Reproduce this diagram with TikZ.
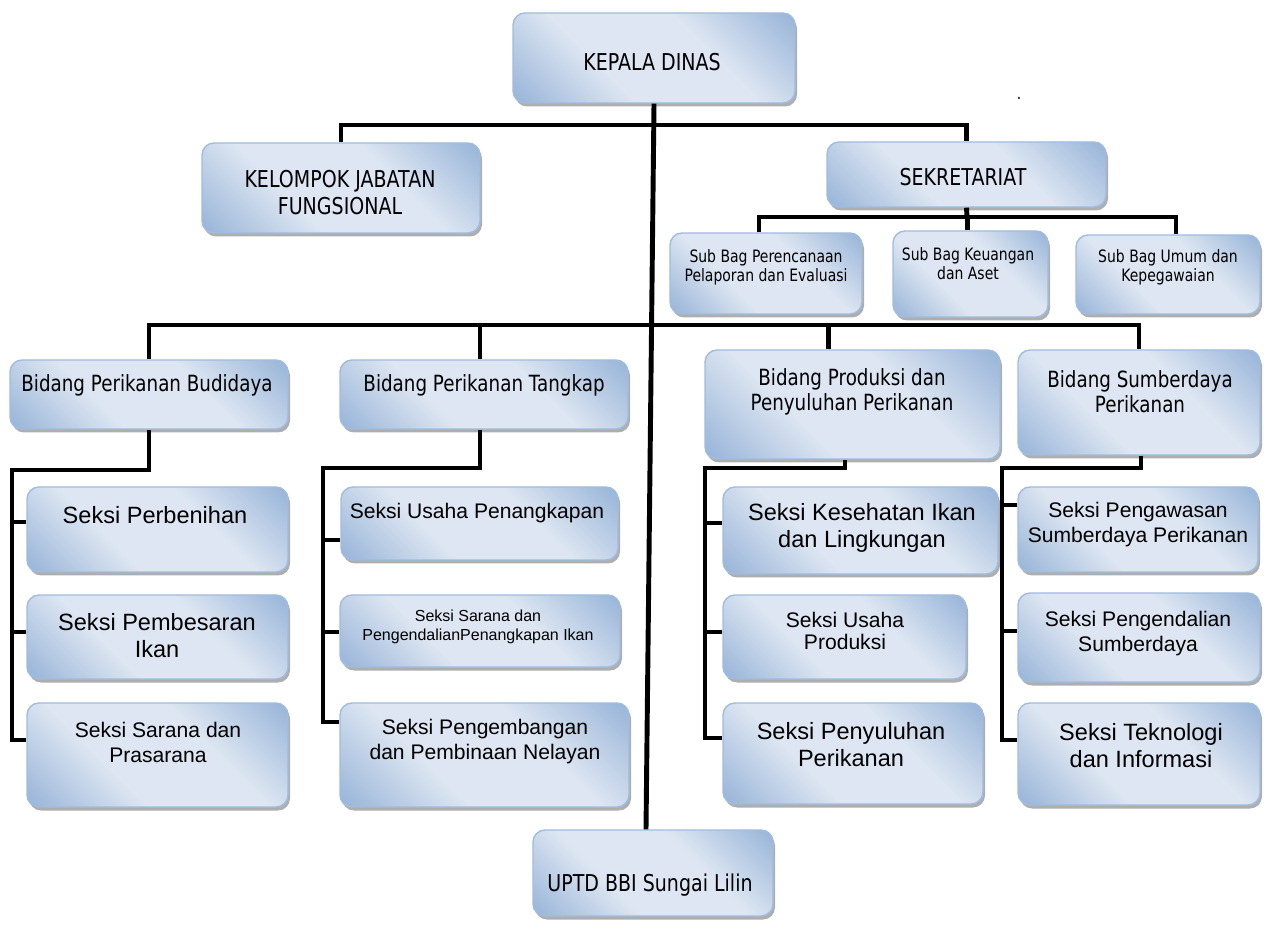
\documentclass[tikz,border=0pt]{standalone}
\usepackage{fontspec}
\usetikzlibrary{calc,fit,shadows}
\newfontfamily\tahoma[FakeStretch=0.82]{DejaVu Sans}
\newfontfamily\arialf{Liberation Sans}
\definecolor{bdark}{RGB}{143,174,213}
\definecolor{blight}{RGB}{221,230,242}
\definecolor{bedge}{RGB}{160,188,222}
\pgfdeclarehorizontalshading{boxgrad}{100bp}{color(0bp)=(bdark); color(12bp)=(bdark); color(38bp)=(blight); color(62bp)=(blight); color(88bp)=(bdark); color(100bp)=(bdark)}
\tikzset{
  orgbox/.style={rectangle, rounded corners=0.24cm, draw=bedge, line width=0.8pt,
    shading=boxgrad, shading angle=45, inner sep=0pt,
    drop shadow={shadow xshift=0.04cm, shadow yshift=-0.07cm, fill=black!45, opacity=0.7}},
  conn/.style={line width=2.8pt},
  head/.style={font=\tahoma\fontsize{13.2}{15.3}\selectfont, align=center, inner sep=0pt},
  bidang/.style={font=\tahoma\fontsize{12.7}{14.2}\selectfont, align=center, inner sep=0pt},
  subbag/.style={font=\tahoma\fontsize{9.7}{10.8}\selectfont, align=center, inner sep=0pt},
  seksibig/.style={font=\arialf\fontsize{13.4}{15.3}\selectfont, align=center, inner sep=0pt},
  seksi/.style={font=\arialf\fontsize{12}{14.2}\selectfont, align=center, inner sep=0pt},
  seksismall/.style={font=\arialf\fontsize{9.1}{10.8}\selectfont, align=center, inner sep=0pt}
}
\begin{document}
\begin{tikzpicture}[x=0.02cm,y=-0.02cm]
\useasboundingbox (0,0) rectangle (1264,928);

% boxes
\node [orgbox, fit={(513,13) (795,103)}] (kepala) {};
\node [orgbox, fit={(202,143) (480,233)}] (kelompok) {};
\node [orgbox, fit={(827,142) (1106,207)}] (sekr) {};
\node [orgbox, fit={(670,233) (862,314)}] (sb1) {};
\node [orgbox, fit={(893,231) (1048,317)}] (sb2) {};
\node [orgbox, fit={(1076,235) (1260,314)}] (sb3) {};
\node [orgbox, fit={(10,360) (288,429)}] (bud) {};
\node [orgbox, fit={(340,360) (628,429)}] (tang) {};
\node [orgbox, fit={(705,350) (1000,459)}] (prod) {};
\node [orgbox, fit={(1018,350) (1260,455)}] (sumb) {};
\node [orgbox, fit={(27,487) (288,572)}] (perb) {};
\node [orgbox, fit={(27,595) (288,679)}] (pemb) {};
\node [orgbox, fit={(27,703) (288,807)}] (sarpras) {};
\node [orgbox, fit={(341,487) (618,560)}] (usahap) {};
\node [orgbox, fit={(340,595) (620,667)}] (sarana) {};
\node [orgbox, fit={(340,703) (629,807)}] (pengemb) {};
\node [orgbox, fit={(723,487) (998,574)}] (kes) {};
\node [orgbox, fit={(723,595) (966,679)}] (usahaprod) {};
\node [orgbox, fit={(723,703) (983,804)}] (peny) {};
\node [orgbox, fit={(1018,487) (1258,572)}] (pengaw) {};
\node [orgbox, fit={(1018,593) (1260,682)}] (pengend) {};
\node [orgbox, fit={(1018,703) (1260,805)}] (tekno) {};
\node [orgbox, fit={(533,830) (773,916)}] (uptd) {};

% texts
\node [head] (kepalat) at (652,62) {KEPALA DINAS};
\node [head] (kelompokt) at (340,193) {KELOMPOK JABATAN\\FUNGSIONAL};
\node [head] (sekrt) at (963,177) {SEKRETARIAT};
\node [subbag] (sb1t) at (766,267) {Sub Bag Perencanaan\\Pelaporan dan Evaluasi};
\node [subbag] (sb2t) at (968,264) {Sub Bag Keuangan\\dan Aset};
\node [subbag] (sb3t) at (1168,267) {Sub Bag Umum dan\\Kepegawaian};
\node [bidang] (budt) at (147,385) {Bidang Perikanan Budidaya};
\node [bidang] (tangt) at (484,385) {Bidang Perikanan Tangkap};
\node [bidang] (prodt) at (852,392) {Bidang Produksi dan\\Penyuluhan Perikanan};
\node [bidang] (sumbt) at (1140,392) {Bidang Sumberdaya\\Perikanan};
\node [seksibig] (perbt) at (155,515) {Seksi Perbenihan};
\node [seksibig] (pembt) at (157,636) {Seksi Pembesaran\\Ikan};
\node [seksi] (sarprast) at (158,742) {Seksi Sarana dan\\Prasarana};
\node [seksi] (usahapt) at (477,513) {Seksi Usaha Penangkapan};
\node [seksismall] (saranat) at (478,627) {Seksi Sarana dan\\PengendalianPenangkapan Ikan};
\node [seksi] (pengembt) at (485,742) {Seksi Pengembangan\\dan Pembinaan Nelayan};
\node [seksibig] (kest) at (862,528) {Seksi Kesehatan Ikan\\dan Lingkungan};
\node [seksi, font=\arialf\fontsize{12}{13}\selectfont] (usahaprodt) at (845,631) {Seksi Usaha\\Produksi};
\node [seksibig] (penyt) at (851,745) {Seksi Penyuluhan\\Perikanan};
\node [seksi] (pengawt) at (1138,525) {Seksi Pengawasan\\Sumberdaya Perikanan};
\node [seksi] (pengendt) at (1138,634) {Seksi Pengendalian\\Sumberdaya};
\node [seksibig] (teknot) at (1141,746) {Seksi Teknologi\\dan Informasi};
\node [head] (uptdt) at (650,885) {UPTD BBI Sungai Lilin};
\node [subbag] (dot) at (1019,98) {.};

% connectors
\coordinate (topbar) at (654,125);
\coordinate (subbar) at (967,217);
\coordinate (mainbar) at (652,325);
\draw [conn] (kelompok.north) |- (topbar) -| (sekr.north);
\draw [conn] (kepala.south) -- ($(uptd.north)+(-7,0)$);
\draw [conn] (sekr.south) -- (subbar);
\draw [conn] ($(sb1.north)+(-7,0)$) |- (subbar) -| ($(sb3.north)+(8,0)$);
\draw [conn] ($(sb2.north)+(-3,0)$) |- (subbar);
\draw [conn] (bud.north) |- (mainbar) -| (sumb.north);
\draw [conn] ($(tang.north)+(-4,0)$) |- (mainbar);
\draw [conn] ($(prod.north)+(-24,0)$) |- (mainbar);

\coordinate (budsp) at (12,470);
\draw [conn] (bud.south) |- (budsp) |- ($(sarpras.west)+(0,-15)$);
\draw [conn] ($(perb.west)+(0,-7.5)$) -| (budsp);
\draw [conn] ($(pemb.west)+(0,-5)$) -| (budsp);

\coordinate (tangsp) at (323,468);
\draw [conn] ($(tang.south)+(-4,0)$) |- (tangsp) |- ($(pengemb.west)+(0,-33)$);
\draw [conn] ($(usahap.west)+(0,16.5)$) -| (tangsp);
\draw [conn] ($(sarana.west)+(0,1)$) -| (tangsp);

\coordinate (prodsp) at (705,468);
\draw [conn] ($(prod.south)+(-7.5,0)$) |- (prodsp) |- ($(peny.west)+(0,-15.5)$);
\draw [conn] ($(kes.west)+(0,-7.5)$) -| (prodsp);
\draw [conn] ($(usahaprod.west)+(0,-5)$) -| (prodsp);

\coordinate (sumbsp) at (1002,468);
\draw [conn] ($(sumb.south)+(2,0)$) |- (sumbsp) |- ($(tekno.west)+(0,-14)$);
\draw [conn] ($(pengaw.west)+(0,-24.5)$) -| (sumbsp);
\draw [conn] ($(pengend.west)+(0,-6.5)$) -| (sumbsp);
\end{tikzpicture}
\end{document}
